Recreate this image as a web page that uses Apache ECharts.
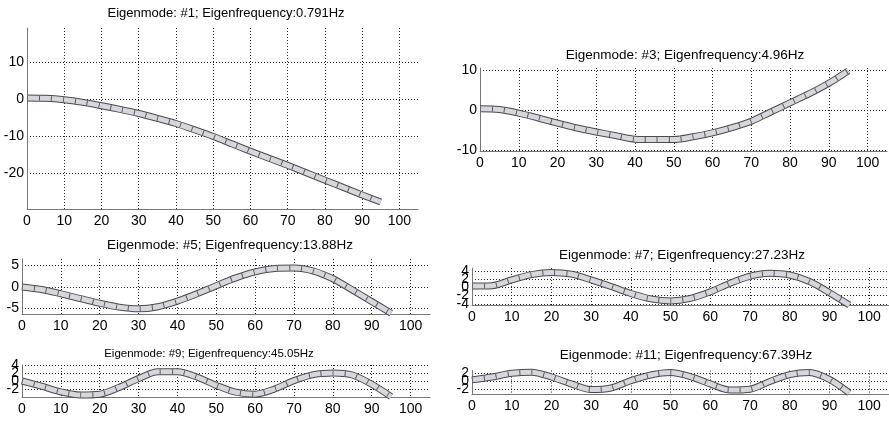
<!DOCTYPE html>
<html><head><meta charset="utf-8">
<script src="https://cdn.jsdelivr.net/npm/echarts@6/dist/echarts.min.js"></script>
<style>html,body{margin:0;padding:0;background:#fff}#c{width:889px;height:421px}</style>
</head><body><div id="c"></div>
<script>
// ---- data ----
const xNodes = [0,5,10,15,20,25,30,35,40,45,50,55,60,65,70,75,80,85,90,95];
const xTicks = [0,10,20,30,40,50,60,70,80,90,100];
const mode1  = [0.3,0.2,-0.2,-0.9,-1.8,-2.8,-3.9,-5.2,-6.6,-8.3,-10.1,-12.1,-14.1,-16.0,-17.9,-19.9,-21.9,-23.9,-25.9,-27.8];
const mode3  = [0.3,0.1,-0.8,-2.0,-3.3,-4.5,-5.5,-6.4,-7.3,-7.4,-7.4,-6.7,-5.7,-4.4,-2.8,-0.5,1.8,4.1,6.7,9.8];
const mode5  = [0.0,-0.6,-1.6,-2.7,-3.8,-4.7,-5.1,-4.6,-3.3,-1.6,0.3,2.1,3.5,4.3,4.4,3.7,1.9,-0.7,-3.4,-6.1];
const mode7  = [0.3,0.4,1.8,3.1,3.6,3.2,1.8,0.2,-1.5,-2.8,-3.3,-2.7,-1.1,1.0,2.7,3.4,3.0,1.4,-1.3,-4.3];
const mode9  = [0.0,-1.3,-2.7,-3.5,-3.3,-1.6,0.6,2.3,2.3,1.0,-1.1,-2.8,-3.3,-2.0,0.1,1.6,2.0,1.5,-0.8,-3.9];
const mode11 = [0.4,1.1,2.0,2.3,1.1,-0.6,-2.0,-1.6,0.2,1.6,2.2,1.2,-0.6,-2.1,-1.9,0.0,1.7,2.2,0.5,-2.8];
const yTicks1  = [-20,-10,0,10];
const yTicks3  = [-10,0,10];
const yTicks5  = [-5,0,5];
const yTicks7  = [-4,-2,0,2,4];
const yTicks9  = [-2,0,2,4];
const yTicks11 = [-2,0,2];
const titles = [
  'Eigenmode: #1; Eigenfrequency:0.791Hz',
  'Eigenmode: #3; Eigenfrequency:4.96Hz',
  'Eigenmode: #5; Eigenfrequency:13.88Hz',
  'Eigenmode: #7; Eigenfrequency:27.23Hz',
  'Eigenmode: #9; Eigenfrequency:45.05Hz',
  'Eigenmode: #11; Eigenfrequency:67.39Hz'
];
const modes = [mode1, mode3, mode5, mode7, mode9, mode11];
const yTicks = [yTicks1, yTicks3, yTicks5, yTicks7, yTicks9, yTicks11];
const yMin = [-29.7, -10.2, -6.3, -4.3, -4.0, -3.2];
const yMax = [19.2, 10.5, 6.5, 4.7, 4.0, 2.7];

// ---- layout ----
const layout = [
  {left:27,  top:28,    width:391, height:181,  tx:226, ty:13,  tf:13},
  {left:480, top:68,    width:407, height:82.8, tx:685, ty:55,  tf:13.5},
  {left:22,  top:259,   width:408, height:55,   tx:230, ty:245, tf:13.5},
  {left:472, top:268,   width:417, height:37,   tx:682, ty:255, tf:13.5},
  {left:22,  top:365,   width:408, height:32,   tx:209, ty:354, tf:11.5},
  {left:472, top:370.5, width:417, height:24,   tx:686, ty:355, tf:13.5}
];
const FONT = "'Liberation Sans', Arial, sans-serif";
const gridLine = {show:true, lineStyle:{color:'#222', width:1, type:[1,2]}};
const labelStyle = {showMinLabel:true, showMaxLabel:true, hideOverlap:false,
  fontFamily:FONT, fontSize:14, color:'#000'};

const grids = [], xAxes = [], yAxes = [], series = [], graphics = [];
layout.forEach((L, i) => {
  grids.push({left:L.left, top:L.top, width:L.width, height:L.height, containLabel:false, outerBoundsMode:'none'});
  xAxes.push({type:'value', gridIndex:i, min:0, max:105,
    axisLine:{show:true, onZero:false, lineStyle:{color:'#777', width:1}},
    axisTick:{show:false, customValues:xTicks},
    axisLabel:Object.assign({customValues:xTicks, margin:5}, labelStyle),
    splitLine:gridLine});
  // main y axis: line + dotted grid
  const mainY = yAxes.length;
  yAxes.push({type:'value', gridIndex:i, min:yMin[i], max:yMax[i],
    axisLine:{show:true, onZero:false, lineStyle:{color:'#777', width:1}},
    axisTick:{show:false, customValues:yTicks[i]},
    axisLabel:{show:false},
    splitLine:gridLine});
  // one label-only axis per tick so that crowded labels all stay visible
  yTicks[i].forEach(v => {
    yAxes.push({type:'value', gridIndex:i, min:yMin[i], max:yMax[i], position:'left',
      axisLine:{show:false}, splitLine:{show:false},
      axisTick:{show:false, customValues:[v]},
      axisLabel:Object.assign({customValues:[v], margin:3}, labelStyle)});
  });
  const data = xNodes.map((x, k) => [x, modes[i][k]]);
  const base = {type:'line', xAxisIndex:i, yAxisIndex:mainY, data:data, showSymbol:false, symbol:'none',
    smooth:0.3, clip:false, silent:true, animation:false};
  series.push(Object.assign({}, base, {lineStyle:{color:'#4a4a4a', width:7, cap:'butt', join:'round'}}));
  series.push(Object.assign({}, base, {lineStyle:{color:'#d6d6de', width:5, cap:'butt', join:'round'}}));
  series.push(Object.assign({}, base, {lineStyle:{color:'#5a5a5a', width:5, type:[1,11], cap:'butt'}}));
  graphics.push({type:'text', x:L.tx, y:L.ty, silent:true,
    style:{text:titles[i], fontFamily:FONT, fontSize:L.tf, fill:'#000', align:'center', verticalAlign:'middle'}});
});

const chart = echarts.init(document.getElementById('c'), null, {renderer:'canvas'});
chart.setOption({
  backgroundColor:'#fff',
  animation:false,
  grid:grids, xAxis:xAxes, yAxis:yAxes, series:series, graphic:graphics
});
</script></body></html>
